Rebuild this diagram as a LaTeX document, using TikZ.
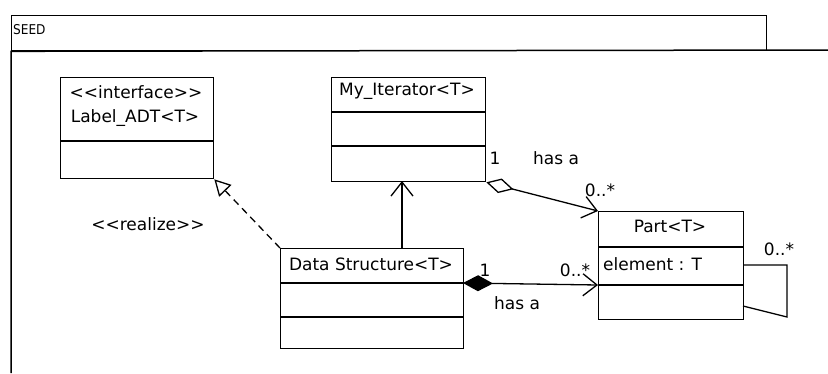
\documentclass[tikz,border=0pt]{standalone}
\usepackage{fontspec}
\setmainfont{DejaVu Sans}
\newfontfamily\tabfont{DejaVu Sans Condensed}
\usetikzlibrary{arrows.meta}

\tikzset{
  umlbox/.style={draw, line width=1.3pt, inner sep=0pt, anchor=north west},
  umltext/.style={font=\fontsize{17}{19}\selectfont, inner sep=0pt},
  divider/.style={line width=1.3pt},
  conn/.style={line width=1.3pt},
  openhead/.style={-{Straight Barb[length=14pt,width=22pt]}},
  realizes/.style={conn, dash pattern=on 7pt off 5pt,
    -{Triangle[length=16pt,width=17pt,fill=white]}},
  aggregates/.style={conn,
    {Diamond[length=28pt,width=15pt,fill=white]}-{Straight Barb[length=14pt,width=22pt]}},
  composes/.style={conn,
    {Diamond[length=30pt,width=16pt]}-{Straight Barb[length=14pt,width=22pt]}},
}

\begin{document}
\begin{tikzpicture}[x=1pt,y=-1pt]
\useasboundingbox (0,0) rectangle (828,373);
\fill[white] (0,0) rectangle (828,373);

% package frame with its tab
\node[umlbox, minimum width=755pt, minimum height=35pt] (tab) at (11,15) {};
\node[font=\tabfont\fontsize{13.5}{15}\selectfont, anchor=west, inner sep=0pt] (seed) at (13,30) {SEED};
\coordinate (frameR) at (828,50);
\coordinate (frameB) at (11,373);
\draw[line width=1.5pt] (frameR) -- (tab.south west) -- (frameB);

% interface Label_ADT
\node[umlbox, minimum width=153pt, minimum height=101pt] (adt) at (60,77) {};
\draw[divider] (60,141) -- (213,141);
\node[umltext] (adtS) at (136,92) {<{}<interface>{}>};
\node[umltext] (adtN) at (135,118) {Label\_ADT<T>};

% class My_Iterator
\node[umlbox, minimum width=154pt, minimum height=104pt] (iter) at (331,77) {};
\draw[divider] (331,112) -- (485,112);
\draw[divider] (331,146) -- (485,146);
\node[umltext] (iterN) at (407,91) {My\_Iterator<T>};

% class Data Structure
\node[umlbox, minimum width=183pt, minimum height=100pt] (ds) at (280,248) {};
\draw[divider] (280,283) -- (463,283);
\draw[divider] (280,317) -- (463,317);
\node[umltext] (dsN) at (371,264) {Data Structure<T>};

% class Part
\node[umlbox, minimum width=145pt, minimum height=108pt] (part) at (598,211) {};
\draw[divider] (598,247) -- (743,247);
\draw[divider] (598,285) -- (743,285);
\node[umltext] (partN) at (670,226) {Part<T>};
\node[umltext, anchor=west] (partA) at (603,264) {element : T};

% realization
\draw[realizes] (ds.north west) -- (adt.south east);
\node[umltext] (realizeL) at (148,224) {<{}<realize>{}>};

% dependency
\coordinate (dsTop) at (402,248);
\coordinate (iterBot) at (402,181);
\draw[conn, openhead] (dsTop) -- (iterBot);

% aggregation My_Iterator -> Part
\draw[aggregates] (iter.south east) -- (part.north west);
\node[umltext] (aggOne) at (495,158) {1};
\node[umltext] (aggHas) at (556,158) {has a};
\node[umltext] (aggMany) at (600,190) {0..*};

% composition Data Structure -> Part
\coordinate (dsR) at (463,283);
\coordinate (partL) at (598,285);
\draw[composes] (dsR) -- (partL);
\node[umltext] (compOne) at (485,270) {1};
\node[umltext] (compMany) at (575,270) {0..*};
\node[umltext] (compHas) at (517,303) {has a};

% self association on Part
\coordinate (loopA) at (743,265);
\coordinate (loopB) at (787,265);
\coordinate (loopC) at (787,317);
\coordinate (loopD) at (743,306);
\draw[conn] (loopA) -- (loopB) -- (loopC) -- (loopD);
\node[umltext] (loopMany) at (779,249) {0..*};
\end{tikzpicture}
\end{document}
